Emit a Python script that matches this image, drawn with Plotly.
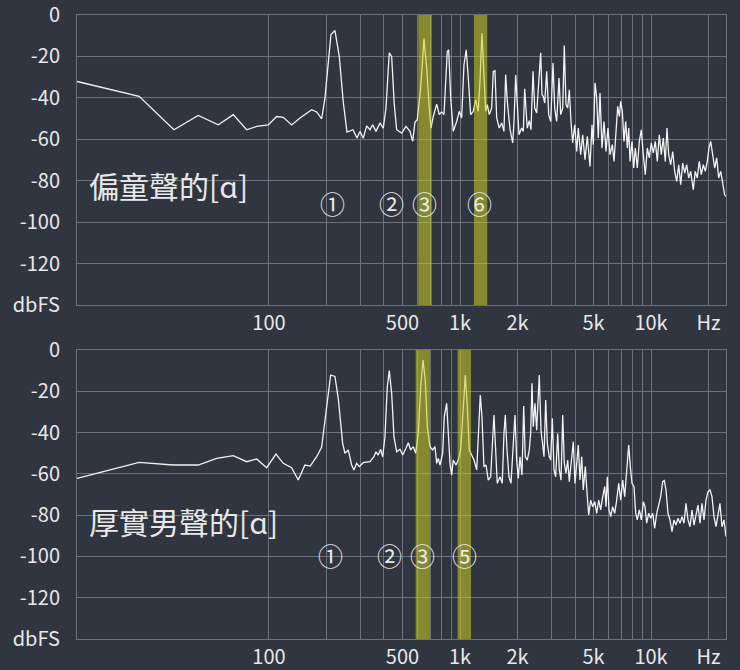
"""
spectrum of the vowel [a] for two voices, harmonics highlighted
"""
import math
import plotly.graph_objects as go

# upper panel: 偏童聲的[ɑ]
top_freq = [9.9, 20.9, 31.8, 42.6, 54.3, 65.0, 76.4, 86.2, 99.1, 109.7,
            118.8, 131.4, 145.3, 167.3, 177.7, 188.7, 196.4, 211.1, 221.5, 233.3,
            244.9, 256.0, 275.3, 288.9, 299.5, 311.6, 324.7, 337.9, 349.0, 363.2,
            381.1, 396.6, 409.7, 426.3, 438.8, 452.8, 466.0, 495.0, 521.3, 547.2,
            565.2, 581.2, 597.5, 622.5, 647.8, 669.2, 690.5, 704.7, 724.6, 754.9,
            778.9, 801.8, 824.3, 857.8, 872.4, 893.7, 922.1, 960.7, 991.3, 1020,
            1049, 1078, 1105, 1137, 1174, 1208, 1246, 1272, 1303, 1335,
            1363, 1389, 1423, 1465, 1493, 1524, 1556, 1605, 1653, 1699,
            1734, 1768, 1827, 1887, 1917, 1957, 1995, 2036, 2103, 2145,
            2181, 2215, 2250, 2305, 2353, 2411, 2461, 2520, 2582, 2645,
            2687, 2729, 2776, 2844, 2913, 2984, 3068, 3131, 3207, 3298,
            3366, 3449, 3515, 3588, 3662, 3734, 3811, 3890, 3985, 4083,
            4161, 4284, 4389, 4512, 4639, 4792, 4910, 4987, 5090, 5196,
            5296, 5406, 5538, 5673, 5812, 5953, 6099, 6270, 6400, 6556,
            6692, 6823, 6938, 7074, 7220, 7370, 7514, 7641, 7762, 7952,
            8116, 8275, 8475, 8683, 8895, 9111, 9333, 9561, 9796, 10032,
            10278, 10529, 10784, 11048, 11318, 11595, 11875, 12121, 12372, 12677,
            12987, 13301, 13627, 13960, 14302, 14648, 15006, 15373, 15746, 16131,
            16643, 17050, 17467, 17890, 18328, 18776, 19235, 19701, 20109, 20525,
            21027, 21541, 22063, 22602, 23155, 23721, 24297, 24681]
top_db = [-32.1, -39.3, -55.4, -48.5, -53.0, -48.1, -55.4, -53.8, -53.1, -49.0,
          -49.4, -53.1, -49.7, -45.7, -46.8, -50.1, -40.0, -9.4, -7.5, -20.0,
          -42.0, -56.5, -55.4, -59.4, -56.2, -59.5, -53.5, -55.4, -53.0, -56.2,
          -52.1, -54.6, -44.9, -18.3, -20.0, -43.3, -55.4, -57.0, -53.8, -56.2,
          -61.0, -51.7, -50.6, -35.2, -11.4, -25.6, -44.9, -54.6, -49.0, -43.0,
          -48.1, -46.8, -48.1, -17.6, -16.8, -40.1, -56.2, -51.4, -46.5, -49.7,
          -24.0, -16.8, -30.4, -48.1, -46.5, -40.9, -46.5, -32.1, -8.7, -32.1,
          -46.5, -43.3, -48.1, -44.9, -27.2, -26.9, -49.7, -54.6, -52.1, -56.2,
          -28.8, -41.7, -55.0, -61.8, -51.4, -29.0, -41.7, -57.8, -54.6, -56.2,
          -35.6, -48.1, -54.6, -51.0, -55.4, -27.2, -44.9, -47.3, -32.1, -18.3,
          -38.5, -39.3, -42.5, -27.2, -48.1, -51.4, -23.2, -44.9, -51.4, -30.4,
          -48.1, -44.9, -14.7, -43.3, -44.9, -36.1, -51.4, -61.8, -53.0, -65.9,
          -54.6, -67.4, -57.8, -69.9, -58.6, -73.1, -53.0, -62.6, -32.8, -40.1,
          -59.4, -37.7, -64.2, -51.4, -65.9, -54.6, -67.4, -62.6, -70.7, -57.8,
          -44.1, -49.0, -41.7, -46.5, -61.0, -51.4, -64.2, -54.6, -70.7, -61.0,
          -73.9, -64.2, -73.9, -61.0, -55.4, -67.4, -77.1, -64.2, -69.0, -61.8,
          -66.6, -61.0, -70.7, -57.8, -67.4, -59.4, -70.7, -54.6, -67.4, -72.3,
          -65.9, -75.5, -80.3, -72.3, -81.9, -71.5, -76.3, -72.3, -78.7, -75.5,
          -84.3, -75.5, -78.7, -70.7, -77.1, -72.3, -75.5, -70.7, -64.2, -61.0,
          -67.4, -73.9, -69.0, -78.7, -75.5, -80.3, -86.8, -87.6]

# lower panel: 厚實男聲的[ɑ]
bottom_freq = [9.9, 20.9, 31.5, 42.6, 53.2, 65.0, 76.4, 86.2, 97.2, 108.8,
               118.8, 131.4, 142.3, 154.3, 164.5, 177.7, 188.7, 196.4, 210.3, 221.5,
               230.5, 243.1, 249.9, 260.0, 270.9, 278.6, 287.8, 296.9, 311.6, 337.9,
               354.5, 363.2, 373.4, 384.4, 393.8, 404.8, 416.1, 426.3, 438.8, 451.1,
               466.0, 485.0, 501.1, 521.3, 536.1, 551.7, 569.4, 586.0, 604.6, 622.5,
               640.0, 658.0, 674.1, 696.3, 719.3, 739.6, 754.9, 769.5, 785.6, 811.5,
               827.4, 851.5, 868.2, 886.2, 904.5, 922.1, 952.6, 979.5, 1008, 1040,
               1066, 1092, 1118, 1151, 1184, 1223, 1246, 1277, 1303, 1335,
               1368, 1406, 1447, 1483, 1506, 1537, 1567, 1619, 1664, 1699,
               1726, 1762, 1805, 1849, 1901, 1940, 1980, 2019, 2061, 2111,
               2155, 2196, 2250, 2305, 2344, 2381, 2419, 2469, 2520, 2560,
               2600, 2654, 2709, 2753, 2810, 2864, 2934, 2984, 3042, 3105,
               3169, 3247, 3310, 3379, 3449, 3515, 3588, 3662, 3734, 3811,
               3919, 4000, 4083, 4161, 4248, 4336, 4420, 4528, 4639, 4718,
               4833, 4950, 5072, 5196, 5322, 5452, 5585, 5722, 5812, 5904,
               6026, 6150, 6300, 6454, 6612, 6773, 6938, 7108, 7282, 7458,
               7641, 7790, 7952, 8146, 8315, 8475, 8683, 8895, 9111, 9298,
               9491, 9723, 9961, 10204, 10452, 10708, 10970, 11236, 11510, 11735,
               11978, 12271, 12568, 12875, 13190, 13513, 13841, 14180, 14527, 14879,
               15243, 15616, 15997, 16385, 16788, 17198, 17616, 18046, 18489, 18937,
               19400, 19874, 20356, 20850, 21360, 21882, 22412, 22960, 23521, 24097,
               24681]
bottom_db = [-62.2, -54.4, -55.7, -55.7, -52.5, -51.2, -54.1, -52.8, -57.0, -50.4,
             -54.9, -57.0, -63.0, -55.7, -56.2, -51.7, -47.0, -33.5, -12.1, -12.8,
             -23.5, -45.2, -50.0, -48.4, -55.7, -58.1, -54.9, -56.5, -54.6, -54.1,
             -51.7, -49.3, -50.9, -48.1, -51.7, -42.0, -17.8, -10.0, -21.0, -42.0,
             -49.3, -48.1, -50.9, -47.6, -44.9, -48.4, -46.8, -50.0, -40.4, -17.8,
             -4.8, -14.5, -37.1, -46.8, -48.4, -46.8, -54.9, -52.5, -55.7, -50.0,
             -32.3, -25.8, -40.4, -54.9, -60.6, -53.3, -55.7, -53.3, -48.4, -29.1,
             -12.1, -27.5, -48.4, -50.9, -53.3, -58.1, -40.4, -21.8, -32.3, -56.5,
             -55.7, -63.0, -61.4, -38.8, -31.5, -48.4, -64.6, -61.4, -64.6, -40.4,
             -31.5, -48.4, -61.4, -64.6, -48.4, -31.5, -53.3, -62.2, -51.7, -60.6,
             -27.1, -51.7, -53.3, -48.4, -40.4, -16.1, -37.1, -25.8, -38.8, -22.6,
             -12.1, -38.8, -48.4, -51.7, -24.2, -45.2, -51.7, -53.3, -33.1, -58.1,
             -61.4, -40.4, -58.1, -63.0, -31.5, -54.9, -59.7, -53.3, -63.8, -56.5,
             -44.4, -64.6, -54.9, -46.0, -63.0, -51.7, -67.8, -56.5, -71.0, -79.9,
             -72.7, -75.9, -73.5, -79.1, -72.7, -77.5, -71.0, -66.2, -75.9, -61.4,
             -77.5, -80.7, -75.9, -79.1, -72.7, -64.6, -72.7, -63.0, -71.0, -59.7,
             -46.0, -56.5, -64.6, -66.2, -79.1, -82.3, -77.5, -82.3, -73.5, -75.9,
             -83.9, -79.1, -81.5, -79.1, -86.4, -79.1, -75.1, -71.0, -63.8, -63.3,
             -67.8, -79.1, -82.3, -88.0, -82.3, -84.8, -81.5, -83.9, -80.7, -83.9,
             -74.3, -82.3, -85.6, -77.5, -84.8, -80.7, -75.1, -83.9, -74.3, -82.3,
             -72.7, -68.6, -67.8, -71.0, -80.7, -85.6, -79.1, -74.3, -85.6, -82.3,
             -90.4]

# harmonic labels and highlighted bands (Hz)
top_marks = ["①", "②", "③", "⑥"]
top_mark_freq = [216, 439, 650, 1262]
top_bands = [(605, 711), (1184, 1389)]
bottom_marks = ["①", "②", "③", "⑤"]
bottom_mark_freq = [211, 426, 635, 1062]
bottom_bands = [(586, 696), (972, 1142)]

panel_titles = ["偏童聲的[ɑ]", "厚實男聲的[ɑ]"]

y_ticks = [0, -20, -40, -60, -80, -100, -120, -140]
y_labels = ["0", "-20", "-40", "-60", "-80", "-100", "-120", "dbFS"]
x_ticks = [100, 500, 1000, 2000, 5000, 10000, 20000]
x_labels = ["100", "500", "1k", "2k", "5k", "10k", "Hz"]
x_minor = [200, 300, 400, 600, 700, 800, 900, 3000, 4000, 6000, 7000, 8000, 9000]

BG = "#2f3640"
GRID = "#6b727c"
TEXT = "#e8e8e8"
FONT = "Noto Sans CJK TC"


def x_axis(anchor):
    return dict(type="log", range=[0.995, 4.3925], anchor=anchor,
                tickvals=x_ticks, ticktext=x_labels, ticks="",
                showgrid=True, gridcolor=GRID, gridwidth=1,
                minor=dict(tickvals=x_minor, showgrid=True, gridcolor=GRID, gridwidth=1, ticks=""),
                showline=True, mirror=True, linecolor=GRID, linewidth=1,
                zeroline=False, tickfont=dict(size=20, color=TEXT, family=FONT),
                ticklabeloverflow="allow", automargin=False)


def y_axis(anchor, domain):
    return dict(range=[-140, 0], domain=domain, anchor=anchor,
                tickvals=y_ticks, ticktext=y_labels, ticks="", ticklabelstandoff=12,
                showgrid=True, gridcolor=GRID, gridwidth=1,
                showline=True, mirror=True, linecolor=GRID, linewidth=1,
                zeroline=False, tickfont=dict(size=20, color=TEXT, family=FONT),
                ticklabeloverflow="allow", automargin=False)


fig = go.Figure()
fig.add_trace(go.Scatter(x=top_freq, y=top_db, mode="lines", xaxis="x", yaxis="y",
                         line=dict(color="#f2f2f2", width=1.3), showlegend=False))
fig.add_trace(go.Scatter(x=bottom_freq, y=bottom_db, mode="lines", xaxis="x2", yaxis="y2",
                         line=dict(color="#f2f2f2", width=1.3), showlegend=False))

shapes = []
annotations = []
panels = [("x", "y", top_bands, top_marks, top_mark_freq, -90.6, -82.0),
          ("x2", "y2", bottom_bands, bottom_marks, bottom_mark_freq, -99.3, -82.8)]
for i, (xr, yr, bands, marks, mark_freq, mark_y, title_y) in enumerate(panels):
    for lo, hi in bands:
        shapes.append(dict(type="rect", xref=xr, yref=yr + " domain", x0=lo, x1=hi, y0=0, y1=1,
                           fillcolor="rgba(205,205,30,0.55)", line=dict(width=0), layer="above"))
    for m, f in zip(marks, mark_freq):
        annotations.append(dict(x=math.log10(f), y=mark_y, xref=xr, yref=yr, text=m,
                                showarrow=False, font=dict(size=25, color=TEXT, family=FONT)))
    annotations.append(dict(x=math.log10(11.1), y=title_y, xref=xr, yref=yr, text=panel_titles[i],
                            xanchor="left", showarrow=False,
                            font=dict(size=30, color=TEXT, family=FONT)))

fig.update_layout(
    width=740, height=670,
    margin=dict(l=77, r=14, t=15, b=31),
    paper_bgcolor=BG, plot_bgcolor=BG,
    xaxis=x_axis("y"), yaxis=y_axis("x", [0.5353, 1.0]),
    xaxis2=x_axis("y2"), yaxis2=y_axis("x2", [0.0, 0.4631]),
    shapes=shapes, annotations=annotations,
    showlegend=False,
)

# the page's default body margin would shift the 740x670 figure
fig.write_html("out.html", config={"displayModeBar": False},
               post_script="document.body.style.margin='0';")
